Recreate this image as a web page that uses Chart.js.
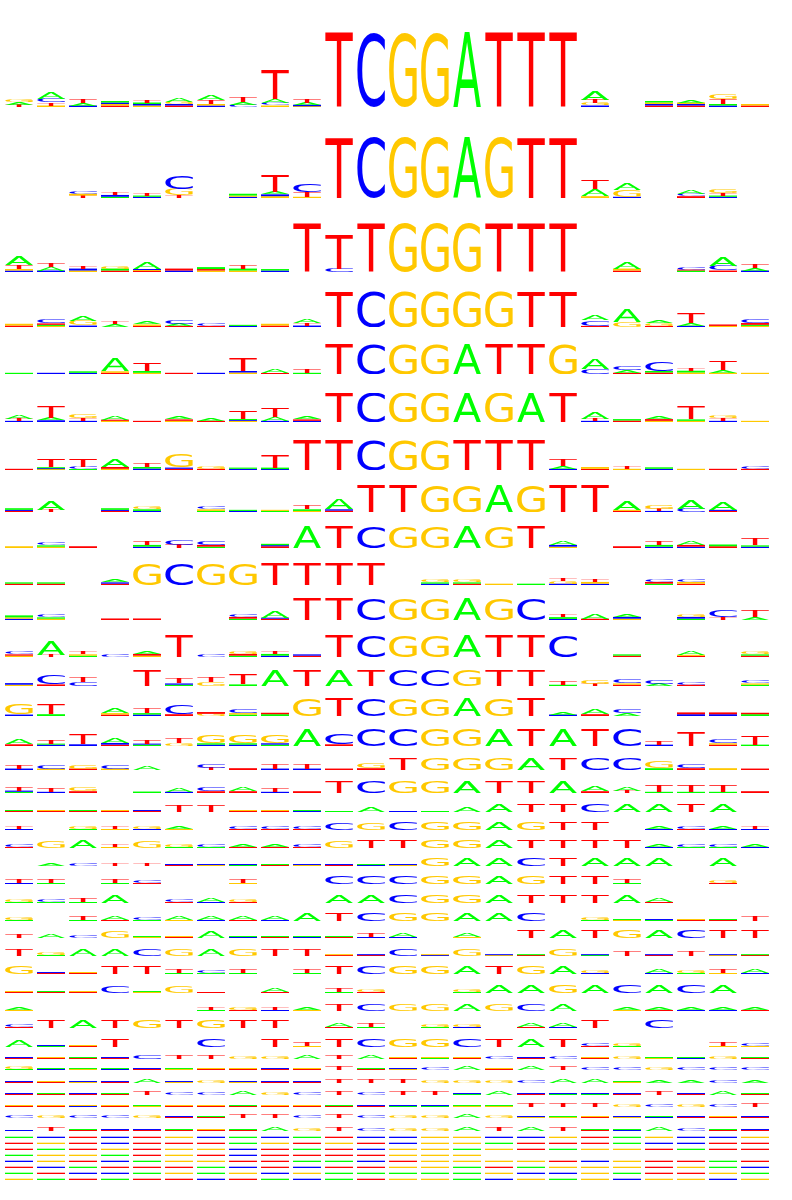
<!DOCTYPE html>
<html>
<head>
<meta charset="utf-8">
<script src="https://cdn.jsdelivr.net/npm/chart.js@4.4.0/dist/chart.umd.min.js"></script>
<style>
  html, body { margin: 0; padding: 0; background: #fff; }
  #logos { position: relative; width: 792px; height: 1200px; }
  .logo-row { position: absolute; left: 3px; width: 768px; }
</style>
</head>
<body>
<div id="logos"></div>
<script>
// motif positions (x categories)
const positions = ["1","2","3","4","5","6","7","8","9","10","11","12","13","14","15","16","17","18","19","20","21","22","23","24"];

// each column: letters bottom -> top, number = height (100 = full letter), no number = 100
const row01 = ["T3A3G3","G2T4C5A8","C2A4T5","T2G2C2A2","G2C2A2T3","T2C2G3A5","C2G2T5A7","C3A4T6","G2C4A5T38","G1C2A3T5","T","C","G","G","A","T","T","T","C2G3T5A12","","T2C2G2A2","T2C2G2A3","C2A2T7G7","T2G2"];
const row02 = ["","","T4G3C5","A2C3T5","C2A2T4","T4G11C22","","C2G2A3","G3C3A4T27","G2T8C12","T","C","G","G","A","G","T","T","G3A11T14","C2G11A11","","T3C4A6","C2A2T4G6",""];
const row03 = ["C3G3T9A17","C3A7T8","G3C4T6","T3A4G6","T2G2C2A13","C3T4","G3T3A4","G3A4T7","C3A3","T","C7T70","T","G","G","G","T","T","T","","T3G4A14","","A3T2C5","T3C10A17","C3A6T9"];
const row04 = ["T4G5","G3A3T4C10","C4G14A14","A7T6","T3G4A6","T3A6C12","T3C6","C3A3","T4G5","C4T6A10","T","C","G","G","G","G","T","T","T3C16A15","G14A37","T3G8A8","C3A8T30","G3T4","G3A3T5C12"];
const row05 = ["A4","C4","C4A5","T4G5A45","G4A6T26","T4","C4","G5C5T45","T3A12","A4T12","T","C","G","G","A","T","T","G","C17A33","T4A8C15","T5A5C30","G5A6T10","G4A10T30","G4"];
const row06 = ["C4T8A12","C6A8T40","C4T10G12","G4T4A12","T4","G4T5A7","T4A8","G4C3A3T25","C4A12T30","C4T5A7","T","C","G","G","A","G","A","T","C4T8A20","T5A5","G4T6A8","G4A5T45","C4T8G10","G4"];
const row07 = ["T4","G3C3A3T27","A3C8T25","G4T6A27","C5A5T12","T4C4G45","T4G8","C4A4","C3A5T45","T","T","C","G","G","T","T","T","C4A8T22","T4G6","G4T10","C4A5","G4","T4","T4C10"];
const row08 = ["T4C4A6","T8A35","","T4C4A6","C4A6G10","","A4G6C10","C4A4","A4G4","G4A6T15","T5C5A40","T","T","G","G","A","G","T","T","T4G4A35","C4T8G12","C12A32","T4C4A30",""];
const row09 = ["G8","G6A6C14","T8","","C6A8T18","T15C22","A6T8C16","","T8C5A6","A","T","C","G","G","A","G","T","G6C8A16","","T8","C6A8T16","C6T8A16","T8A8","C6A6T32"];
const row10 = ["T6A6","T6A6","","T6C6A10","G","C","G","G","T","T","T","T","","C6A6G12","T6A6G12","G6","A6","C6G10T12","C6G8T10","","A6T8C12","T6G8C12","",""];
const row11 = ["C6G6A9","G6A6C10","","T7","T7","","","A6T8C12","T6C4A30","T","T","C","G","G","A","G","C","C5A8T10","T6A22","G6C8A12","","A6C8G12","T12C30","A12T30"];
const row12 = ["G6T6C12","T10A62","A6G6T12","C10","G6T8A14","T","C10","A6T8G12","C6A8T12","T6C6","T","C","G","G","A","T","T","C","","T6A6","","T5G5A18","","T6A6G12"];
const row13 = ["G8C10","T10C60","C25T30","","T","A8C8T30","G25T30","A10T65","A","T","A","T","C","C","G","T","T","A8T25","T15G25","T8G8C25","A15C25","T8C15","","A8G8C20"];
const row14 = ["C8G60","A10T60","","T8G8A25","C8A8T25","T10C55","G12T10","A8G8C25","A10T8","G","T","C","G","G","A","G","T","C8A15","T10A30","A15C25","","C10T10","C10T10","A10T8"];
const row15 = ["T10A30","C8A6T25","C10T60","T8C10A30","A8C6T25","G15T30","C8A8G50","C8A8G50","A8C8G50","A","T10C65","C","C","G","G","A","T","A","T","C","C8T25","T85","T8G8C25","A8T50"];
const row16 = ["C12T30","G12C35","T12G30","G12C35","A30","","T20C30","T15","C12T45","C12T45","T12","T15G40","T","G","G","G","A","T","C","C","A15G50","T15C35","G15","T12"];
const row17 = ["A10C10T35","C10T35","T15G30","","A12","C10A35","T15C30","T15A30","C10T35","T15","T","C","G","G","A","T","T","A","T15A45","T20A35","A10T50","A10T50","A10T50","T15"];
const row18 = ["T12A12","T12G12","T12A12","T12G12","T12C12","T75","T75","T12G12","T12G12","C12A12","A12","A70","C12","A12","A60","A","T","T","C","A","A","T","A",""];
const row19 = ["C12T35","","A8G35","G12T35","C12G35","G10A35","","T12C35","T12C35","T12C35","C90","G90","C","G","G","A","G","T","T","","C12A35","T12C35","C12A35","C12T35"];
const row20 = ["T12C35","G85","A90","G12T35","G85","A12G35","A12C35","T12A35","T12A35","T12C35","G90","T90","T","G","G","A","T","T","T","T","C12A35","A12C35","A12C35","C12A35"];
const row21 = ["","A35","C35","T35","T35","T12C12","G12C12","A12C12","T12A12","G12C12","T12C12","C12A12","G12C12","G","A","A","C","T","A","A","A","","A",""];
const row22 = ["C12T40","A12T40","","A12T40","T12C40","","","G12T40","","","C","C","C","G","G","A","G","T","T","A12T40","","","T12G40",""];
const row23 = ["A12G40","A12C40","A12T40","A","","T12C40","C12A40","T12G40","","","A","A","C","G","G","A","T","T","T","A","T12A40","","",""];
const row24 = ["A12G40","","A12T40","T12A40","A12C40","G12A40","C12A40","T12A40","C12A40","A","T","C","G","G","A","A","C","","A12G40","G12A12","A12C12","T12G12","T12A12","T60"];
const row25 = ["T40","A40","C40","G80","G12A12","T12G12","A75","C12A12","T12A12","C12A12","T12A12","C12T40","C12A40","","G12A40","","T","A","T","G","A","C","T","T"];
const row26 = ["T","A12G40","A","A","C","G","A","G","T","T","T12G12","T12C12","C","C12G12","G","G12C12","T12A12","G","A12C12","T70","T12C12","T70","G12C12","T12A12"];
const row27 = ["G","T12C12","T12G12","T90","T","A12T40","A12C40","A12T40","","A12T40","T","C","G","G","A","T","G","A","C12G40","","C12A40","A12G40","G12T40","C12A40"];
const row28 = ["T12G12","T12A12","T12G12","C80","G12A12","G80","T12","","T12A40","","A12T40","T12G40","","","A12G40","A","A","G","A","C","A","C","A",""];
const row29 = ["G12A40","","","","","","A12T40","T12G40","C12T40","G12A40","T","C","G","G","A","G","C","A","","G12A40","T12A40","C12A40","C12A40","T12A40"];
const row30 = ["T12C40","T","A","T","G","T","G","T","T","","T12A40","A12T40","","A12G40","C12G40","","T12A40","C12A40","T","","C","","",""];
const row31 = ["A80","A12C12","T12G12","T","","","C","","T","G12T40","T","C","G","G","C","T","A","T","T12C40","A12G40","","","G12T40","G12C40"];
const row32 = ["T12C12","T12G12","T12A12","T12C12","C45","T40","T40","G40","G40","A40","T40","A40","T12G12","A12G12","T12G12","C40","T12C12","C40","T12G12","G40","G12A12","C12A12","G40","T12A12"];
const row33 = ["A12G40","C12A12","G12A12","C12A12","T12C12","G12A12","T12G12","T12G12","T12C12","T12G12","T40","T12A12","G12C12","C40","A40","T12G12","A40","T40","C40","C40","G40","C40","C40","C40"];
const row34 = ["T12C12","T12G12","G12C12","T12C12","A40","G12C12","G40","G12C12","T12C12","T12C12","T40","T40","T40","G40","G40","G40","C40","A40","A40","G12A12","A30","A30","C30","A30"];
const row35 = ["T12C12","T12A12","T12C12","T12A12","T40","C40","C40","A40","G40","C40","T40","C40","T40","T40","A12C12","A40","T12C12","A12C12","A12C12","T12C12","T40","T12C12","A40","T12A12"];
const row36 = ["T12G12","T12G12","C12G12","T12G12","G12A12","T12G12","T12G12","T12A12","T12G12","T12G12","T12A12","T12C12","A12C12","A12C12","G12A12","G12A12","T40","T40","T40","G40","C40","G40","C40","T40"];
const row37 = ["C30","G30","C30","C30","G30","T12C12","T12A12","T40","T40","C40","T40","C40","G40","G40","A40","G40","G12C12","G12A12","T12G12","G12C12","C12A12","T12C12","T12G12","T12C12"];
const row38 = ["C12","T40","T12A12","T12C12","T12C12","T12A12","T12G12","T12A12","A40","G40","T40","C40","G40","G40","A40","T40","A40","T40","T12A12","C12A12","A40","C40","T12A12","T12C12"];
const row39 = ["A","C","T","C","T","G","C","A","C","A","T","C","C","G","G","C","C","G","T","A","G","C","C","G"];
const row40 = ["T","G","T","C","T","T","T","A","G","T","G","T","C","G","G","A","T","T","T","A","C","C","T","T"];
const row41 = ["T","A","T","G","T","G","G","C","T","A","T","C","G","G","A","G","T","A","G","G","T","A","T","T"];
const row42 = ["A","G","G","A","T","G","T","C","T","T","T","T","G","G","G","","","","","","","","",""];
const row43 = ["C","G","T","C","A","G","G","T","T","A","A","C","T","G","G","G","G","T","C","G","T","T","A","T"];
const row44 = ["T","C","A","T","T","T","A","C","T","C","T","T","G","G","A","T","A","G","G","G","T","G","A","C"];
const row45 = ["A","T","C","C","A","G","A","G","C","G","A","A","A","A","A","G","C","C","G","A","T","T","G","A"];
const row46 = ["G","A","T","A","T","T","C","T","A","C","A","T","G","G","A","C","G","A","G","C","G","G","C","G"];

const rows = [row01,row02,row03,row04,row05,row06,row07,row08,row09,row10,row11,row12,row13,row14,row15,row16,
  row17,row18,row19,row20,row21,row22,row23,row24,row25,row26,row27,row28,row29,row30,row31,row32,row33,
  row34,row35,row36,row37,row38,row39,row40,row41,row42,row43,row44,row45,row46];

// layout: [baseline y, pixel height of a full letter] per row
const rowLayout = [
  [107,75],[198,61],[272,49],[327,36],[374,30],[422,29],[470,30],[512,27],[548,22],[585,22],
  [620,22],[657,22],[686,16],[716,18],[746,17],[770,12],[793,12],[812,8],[830,8],[848,8],
  [866,8],[884,8],[903,8],[921,8],[938,8],[956,7],[974,8],[993,8],[1011,7],[1028,8],
  [1047,8],[1059,8],[1070,8],[1083,8],[1095,8],[1107,8],[1118,8],[1131,8],
  [1137.5,1.3],[1143.5,1.3],[1149.5,1.3],[1155.5,1.3],[1161.5,1.3],[1167.5,1.3],[1173.5,1.3],[1179.5,1.3]
];

const letterColors = { A: '#00ff00', C: '#0000ff', G: '#ffc800', T: '#ff0000' };
const LOGO_FONT = '100px "DejaVu Sans"';

function parseColumn(tok) {
  const out = [];
  const re = /([ACGT])(\d*)/g;
  let m;
  while ((m = re.exec(tok))) out.push({ letter: m[1], h: m[2] === '' ? 100 : +m[2] });
  return out;
}

const glyphCache = {};
function glyphBox(ctx, letter) {
  if (!glyphCache[letter]) {
    ctx.save();
    ctx.font = LOGO_FONT;
    const m = ctx.measureText(letter);
    ctx.restore();
    glyphCache[letter] = { l: m.actualBoundingBoxLeft, r: m.actualBoundingBoxRight,
                           a: m.actualBoundingBoxAscent, d: m.actualBoundingBoxDescent };
  }
  return glyphCache[letter];
}

// stretch each letter over its bar rectangle
const letterPlugin = {
  id: 'letters',
  afterDatasetsDraw(chart) {
    const ctx = chart.ctx;
    chart.data.datasets.forEach((ds, i) => {
      chart.getDatasetMeta(i).data.forEach((bar, j) => {
        const L = ds.letters[j];
        if (!L) return;
        const { x, y, base, width } = bar.getProps(['x', 'y', 'base', 'width'], true);
        const h = base - y;
        if (h <= 0) return;
        const left = x - width / 2;
        ctx.fillStyle = letterColors[L];
        if (h < 2) {
          ctx.fillRect(left, base - Math.max(h, 1), width, Math.max(h, 1));
          return;
        }
        const g = glyphBox(ctx, L);
        ctx.save();
        ctx.translate(left, y);
        ctx.scale(width / (g.l + g.r), h / (g.a + g.d));
        ctx.font = LOGO_FONT;
        ctx.textAlign = 'left';
        ctx.textBaseline = 'alphabetic';
        ctx.fillText(L, g.l, g.a);
        ctx.restore();
      });
    });
  }
};

const holder = document.getElementById('logos');

rows.forEach((cols, r) => {
  const [baseline, fullPx] = rowLayout[r];
  const boxH = Math.max(Math.ceil(fullPx), 14);
  const div = document.createElement('div');
  div.className = 'logo-row';
  div.style.top = (baseline - boxH) + 'px';
  div.style.height = boxH + 'px';
  const canvas = document.createElement('canvas');
  div.appendChild(canvas);
  holder.appendChild(div);

  const stacks = cols.map(parseColumn);
  const depth = Math.max(...stacks.map(s => s.length));
  const datasets = [];
  for (let k = 0; k < depth; k++) {
    datasets.push({
      data: stacks.map(s => (s[k] ? s[k].h : 0)),
      letters: stacks.map(s => (s[k] ? s[k].letter : null)),
      backgroundColor: 'rgba(0,0,0,0)',
      borderWidth: 0,
      clip: false,
      barPercentage: 28 / 32,
      categoryPercentage: 1
    });
  }

  new Chart(canvas, {
    type: 'bar',
    data: { labels: positions, datasets: datasets },
    options: {
      responsive: true,
      maintainAspectRatio: false,
      animation: false,
      events: [],
      layout: { padding: 0 },
      plugins: { legend: { display: false }, tooltip: { enabled: false } },
      scales: {
        x: { display: false, stacked: true },
        y: { display: false, stacked: true, min: 0, max: 100 * boxH / fullPx }
      }
    },
    plugins: [letterPlugin]
  });
});
</script>
</body>
</html>
